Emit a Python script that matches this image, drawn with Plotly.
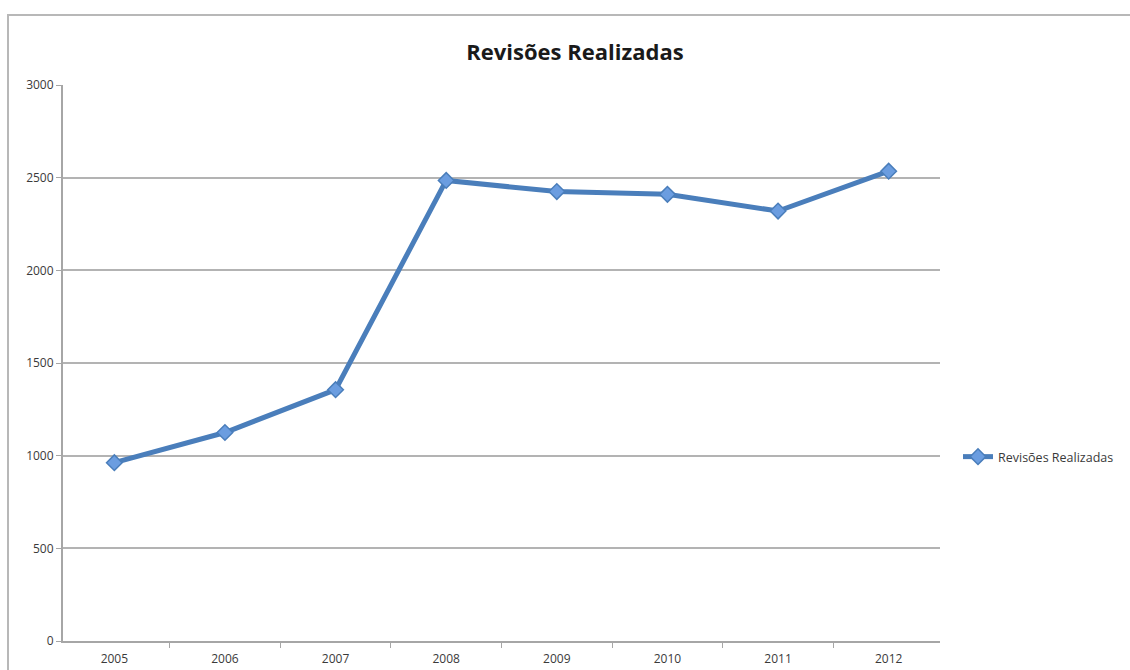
import plotly.graph_objects as go

# Annual counts of reviews carried out
years = ["2005", "2006", "2007", "2008", "2009", "2010", "2011", "2012"]
revisoes = [962, 1125, 1356, 2485, 2425, 2410, 2320, 2535]
y_ticks = [0, 500, 1000, 1500, 2000, 2500, 3000]
series_name = "Revisões Realizadas"
chart_title = "Revisões Realizadas"

W, H = 1130, 670
L, R, T, B = 63, 190, 85, 29
pw, ph = W - L - R, H - T - B

def px_x(p):
    return (p - L) / pw

def px_y(p):
    return (H - B - p) / ph

fig = go.Figure()
fig.add_trace(go.Scatter(
    x=years, y=revisoes, name=series_name, mode="lines+markers",
    line=dict(color="#4a7ebb", width=5),
    marker=dict(symbol="diamond", size=12, color="#6b9de0",
                line=dict(color="#4a7ebb", width=1.5)),
))

fig.update_layout(
    width=W, height=H,
    margin=dict(l=L, r=R, t=T, b=B, autoexpand=False),
    paper_bgcolor="white", plot_bgcolor="white",
    font=dict(family="Open Sans, DejaVu Sans, sans-serif", size=12, color="#3a3a3a"),
    title=dict(text="<b>" + chart_title + "</b>", x=575 / W, xanchor="center",
               y=1 - 52 / H, yanchor="middle",
               font=dict(size=22, color="#1a1a1a")),
    showlegend=True,
    legend=dict(x=px_x(958), y=px_y(457), xanchor="left", yanchor="middle",
                font=dict(size=12.5, color="#3a3a3a"), itemwidth=30,
                bgcolor="rgba(0,0,0,0)"),
    xaxis=dict(type="category", showgrid=False, showline=True,
               linecolor="#a6a6a6", linewidth=2, ticks="outside",
               tickson="boundaries", ticklen=5, tickcolor="#a6a6a6",
               tickwidth=1, ticklabelstandoff=6, automargin=False,
               tickfont=dict(size=12, color="#3a3a3a")),
    yaxis=dict(range=[0, 3000], tickvals=y_ticks, showgrid=True,
               gridcolor="#b3b3b3", gridwidth=2, showline=True,
               linecolor="#a6a6a6", linewidth=2, ticks="outside",
               ticklen=5, tickcolor="#a6a6a6", zeroline=False,
               automargin=False, tickfont=dict(size=12, color="#3a3a3a")),
    shapes=[dict(type="rect", xref="paper", yref="paper",
                 x0=px_x(8), x1=px_x(W + 20), y0=px_y(H + 20), y1=px_y(15),
                 line=dict(color="#b8b8b8", width=2), layer="below")],
)

fig.write_html("out.html")
